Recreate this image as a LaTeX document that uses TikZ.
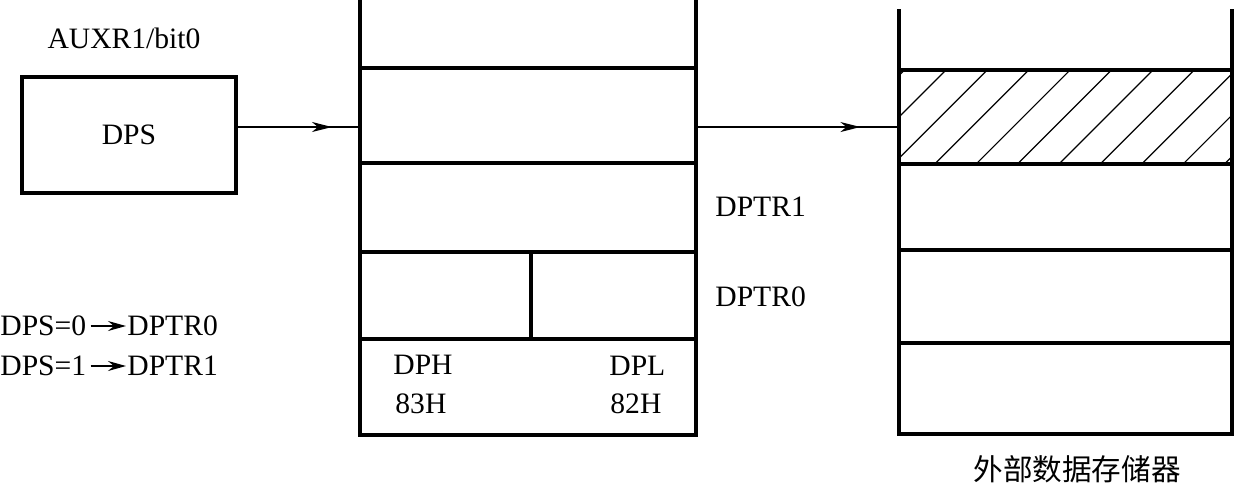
\documentclass[tikz,border=0pt]{standalone}
\usepackage{fontspec}
\setmainfont{Liberation Serif}
\newfontfamily\cjk{Noto Sans CJK SC}
\usetikzlibrary{arrows.meta,decorations.markings}
\begin{document}
\begin{tikzpicture}[x=0.5pt,y=-0.5pt,
  every node/.style={font=\fontsize{14.8}{17}\selectfont},
  box/.style={draw, line width=1.6pt, rectangle, inner sep=0pt, outer sep=0pt},
  lbl/.style={inner sep=0pt, anchor=west},
  wall/.style={line width=1.6pt},
  conn/.style={line width=0.7pt},
  hatch/.style={line width=0.6pt},
  midarrow/.style={conn, postaction={decorate},
    decoration={markings, mark=at position #1 with {\arrow{Stealth[length=10pt,width=5pt,inset=3pt]}}}},
  smallarrow/.style={conn, -{Stealth[length=9pt,width=5pt,inset=3pt]}, shorten <=2pt, shorten >=0.5pt}
]
\useasboundingbox (0,0) rectangle (1237,484);
\coordinate (mtop) at (0,0);
\coordinate (rtop) at (0,9);
\coordinate (ay) at (0,127);

% DPS register
\node[box, minimum width=107pt, minimum height=58pt] (dps) at (129,135) {DPS};
\node[inner sep=0pt] (auxr) at (124,38) {AUXR1/bit0};

% middle column (DPTR)
\node[box, minimum width=168pt, minimum height=47.5pt] (m1) at (528,115.5) {};
\node[box, minimum width=168pt, minimum height=44.5pt] (m2) at (528,207.5) {};
\node[box, minimum width=85.5pt, minimum height=43.5pt] (m3a) at (445.5,295.5) {};
\node[box, minimum width=82.5pt, minimum height=43.5pt] (m3b) at (613.5,295.5) {};
\node[box, minimum width=168pt, minimum height=48pt] (m4) at (528,387) {};
\draw[wall] (m1.north west) -- (m1.north west |- mtop);
\draw[wall] (m1.north east) -- (m1.north east |- mtop);

% right column (external memory)
\begin{scope}
  \clip (899,164) rectangle (1232,70);
  \foreach \i in {-3,...,8}
    \draw[hatch] (934.7+41.4*\i,164) -- ++(94,-94);
\end{scope}
\node[box, minimum width=166.5pt, minimum height=47pt] (r1) at (1065.5,117) {};
\node[box, minimum width=166.5pt, minimum height=43pt] (r2) at (1065.5,207) {};
\node[box, minimum width=166.5pt, minimum height=46.5pt] (r3) at (1065.5,296.5) {};
\node[box, minimum width=166.5pt, minimum height=45.5pt] (r4) at (1065.5,388.5) {};
\draw[wall] (r1.north west) -- (r1.north west |- rtop);
\draw[wall] (r1.north east) -- (r1.north east |- rtop);

% connectors
\draw[midarrow=0.774] (dps.east |- ay) -- (m1.west |- ay);
\draw[midarrow=0.81] (m1.east |- ay) -- (r1.west |- ay);

% labels
\node[lbl] (dph) at (393,365) {DPH};
\node[lbl] (h83) at (395,404) {83H};
\node[lbl] (dpl) at (609,366) {DPL};
\node[lbl] (h82) at (610,404) {82H};
\node[lbl] (dptr1) at (715,207) {DPTR1};
\node[lbl] (dptr0) at (715,297) {DPTR0};
\node[font=\cjk\fontsize{14.8}{17}\selectfont, inner sep=0pt] (ext) at (1077,469) {外部数据存储器};

% legend
\node[lbl] (s0) at (0,326) {DPS=0};
\node[lbl] (t0) at (127,326) {DPTR0};
\draw[smallarrow] (s0.east) -- (t0.west);
\node[lbl] (s1) at (0,366) {DPS=1};
\node[lbl] (t1) at (127,366) {DPTR1};
\draw[smallarrow] (s1.east) -- (t1.west);
\end{tikzpicture}
\end{document}
